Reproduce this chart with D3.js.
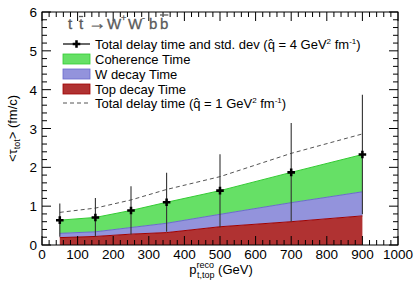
<!DOCTYPE html>
<html lang="en">
<head>
    <meta charset="UTF-8">
    <title>Delay time vs top pT</title>
    <script src="https://d3js.org/d3.v7.min.js"></script>
    <style>
        body { margin: 0; background: #fff; }
        text { font-family: "Liberation Sans", Arial, sans-serif; }
    </style>
</head>
<body>
    <svg id="chart"></svg>
    <script>
        // values
        const ptTop = [50, 150, 250, 350, 500, 700, 900];
        const totalDelay = [0.64, 0.71, 0.89, 1.10, 1.40, 1.87, 2.33];
        const stdDev = [0.43, 0.50, 0.62, 0.76, 0.94, 1.27, 1.54];
        const topDecay = [0.19, 0.22, 0.28, 0.32, 0.47, 0.60, 0.75];
        const wDecay = [0.11, 0.12, 0.17, 0.24, 0.32, 0.49, 0.62];
        const coherence = [0.34, 0.37, 0.44, 0.54, 0.61, 0.78, 0.96];
        const totalDelayQ1 = [0.84, 0.95, 1.16, 1.43, 1.76, 2.36, 2.86];
        const xTicks = [0, 100, 200, 300, 400, 500, 600, 700, 800, 900, 1000];
        const yTicks = [0, 1, 2, 3, 4, 5, 6];

        const width = 415, height = 283;
        const plotL = 42, plotR = 398, plotT = 12, plotB = 245;

        const svg = d3.select("#chart").attr("width", width).attr("height", height);

        const x = d3.scaleLinear().domain([0, 1000]).range([plotL, plotR]);
        const y = d3.scaleLinear().domain([0, 6]).range([plotB, plotT]);

        const rows = ptTop.map((p, i) => ({
            pt: p, top: topDecay[i], w: wDecay[i], coh: coherence[i]
        }));
        const stack = d3.stack().keys(["top", "w", "coh"]);
        const layers = stack(rows);

        const fills = { top: "#b03232", w: "#9393dc", coh: "#66e066" };
        const edges = { top: "#a00000", w: "#6a6acc", coh: "#33cc33" };

        const area = d3.area()
            .x(d => x(d.data.pt))
            .y0(d => y(d[0]))
            .y1(d => y(d[1]));
        const topLine = d3.line()
            .x(d => x(d.data.pt))
            .y(d => y(d[1]));

        svg.append("g").selectAll("path.area")
            .data(layers)
            .enter().append("path")
            .attr("class", "area")
            .attr("fill", d => fills[d.key])
            .attr("d", area);

        svg.append("g").selectAll("path.edge")
            .data(layers)
            .enter().append("path")
            .attr("fill", "none")
            .attr("stroke", d => edges[d.key])
            .attr("stroke-width", 1)
            .attr("d", topLine);

        // dashed q=1 curve
        svg.append("path")
            .datum(ptTop.map((p, i) => [p, totalDelayQ1[i]]))
            .attr("fill", "none")
            .attr("stroke", "#555")
            .attr("stroke-width", 1)
            .attr("stroke-dasharray", "4,3")
            .attr("d", d3.line().x(d => x(d[0])).y(d => y(d[1])));

        // error bars + markers
        const pts = ptTop.map((p, i) => ({ pt: p, v: totalDelay[i], e: stdDev[i] }));
        const eb = svg.append("g");
        eb.selectAll("line")
            .data(pts)
            .enter().append("line")
            .attr("x1", d => x(d.pt)).attr("x2", d => x(d.pt))
            .attr("y1", d => y(d.v - d.e)).attr("y2", d => y(d.v + d.e))
            .attr("stroke", "#333")
            .attr("stroke-width", 1.1);
        eb.selectAll("path")
            .data(pts)
            .enter().append("path")
            .attr("transform", d => `translate(${x(d.pt)},${y(d.v)})`)
            .attr("d", d3.symbol().type(d3.symbolCross).size(32))
            .attr("fill", "#000");

        // frame
        svg.append("rect")
            .attr("x", plotL).attr("y", plotT)
            .attr("width", plotR - plotL).attr("height", plotB - plotT)
            .attr("fill", "none").attr("stroke", "#000").attr("stroke-width", 1);

        // ticks on all four sides, pointing inward
        const tk = svg.append("g").attr("stroke", "#000").attr("stroke-width", 1);
        const xMinor = d3.range(0, 1001, 20);
        xMinor.forEach(v => {
            const len = v % 100 === 0 ? 9 : 5;
            tk.append("line").attr("x1", x(v)).attr("x2", x(v)).attr("y1", plotB).attr("y2", plotB - len);
            tk.append("line").attr("x1", x(v)).attr("x2", x(v)).attr("y1", plotT).attr("y2", plotT + len);
        });
        const yMinor = d3.range(0, 30.5, 1).map(v => v / 5);
        yMinor.forEach((v, i) => {
            const len = i % 5 === 0 ? 9 : 5;
            tk.append("line").attr("y1", y(v)).attr("y2", y(v)).attr("x1", plotL).attr("x2", plotL + len);
            tk.append("line").attr("y1", y(v)).attr("y2", y(v)).attr("x1", plotR).attr("x2", plotR - len);
        });

        // tick labels
        svg.append("g").selectAll("text")
            .data(xTicks)
            .enter().append("text")
            .attr("x", d => x(d)).attr("y", 259)
            .attr("text-anchor", "middle")
            .attr("font-size", 13.5)
            .text(d => d);
        svg.append("g").selectAll("text")
            .data(yTicks)
            .enter().append("text")
            .attr("x", 37).attr("y", d => y(d) + 5)
            .attr("text-anchor", "end")
            .attr("font-size", 13.5)
            .text(d => d);

        // axis titles
        const yt = svg.append("text")
            .attr("transform", `translate(17,${(plotT + plotB) / 2}) rotate(-90)`)
            .attr("text-anchor", "middle")
            .attr("font-size", 13);
        yt.append("tspan").text("<\u03c4");
        yt.append("tspan").attr("font-size", 9).attr("dy", 3).text("tot");
        yt.append("tspan").attr("dy", -3).text("> (fm/c)");

        const xt = svg.append("text")
            .attr("x", 221).attr("y", 274)
            .attr("text-anchor", "middle")
            .attr("font-size", 13);
        xt.append("tspan").text("p");
        xt.append("tspan").attr("font-size", 9).attr("dy", -6).text("reco");
        xt.append("tspan").attr("font-size", 9).attr("dx", -17).attr("dy", 10).text("t,top");
        xt.append("tspan").attr("dy", -4).text(" (GeV)");

        // process label, piece by piece so the anti-quark bars can be drawn
        const grey = "#5a5a5a";
        const pg = svg.append("g").attr("fill", grey);
        const parts = [
            { s: "t", x: 68 }, { s: "t", x: 79, bar: true }, { s: "\u2192", x: 88, arrow: true },
            { s: "W", x: 107 }, { s: "+", x: 121, sup: true },
            { s: "W", x: 128 }, { s: "-", x: 142, sup: true },
            { s: "b", x: 149 }, { s: "b", x: 160, bar: true }
        ];
        parts.forEach(p => {
            const t = pg.append("text")
                .attr("x", p.x).attr("y", p.sup ? 21 : 28.5)
                .attr("font-size", p.sup ? 9 : (p.arrow ? 18 : 15))
                .attr("font-family", p.arrow ? "DejaVu Sans" : null)
                .attr("stroke", grey).attr("stroke-width", 0.3)
                .text(p.s);
            if (p.bar) {
                const w = t.node().getComputedTextLength();
                const by = p.s === "b" ? 15 : 16.5;
                pg.append("line")
                    .attr("x1", p.x).attr("x2", p.x + w)
                    .attr("y1", by).attr("y2", by)
                    .attr("stroke", grey).attr("stroke-width", 1.3);
            }
        });

        // legend
        const legY = [44, 59, 74, 89, 103];
        const lx0 = 63, lx1 = 90, tx = 95;
        const lg = svg.append("g").attr("font-size", 13);

        lg.append("line").attr("x1", lx0).attr("x2", lx1).attr("y1", legY[0]).attr("y2", legY[0])
            .attr("stroke", "#000").attr("stroke-width", 1.2);
        lg.append("path").attr("transform", `translate(${(lx0 + lx1) / 2},${legY[0]})`)
            .attr("d", d3.symbol().type(d3.symbolCross).size(32)).attr("fill", "#000");
        const t0 = lg.append("text").attr("x", tx).attr("y", legY[0] + 4.5);
        t0.append("tspan").text("Total delay time and std. dev (q\u0302 = 4 GeV");
        t0.append("tspan").attr("font-size", 8).attr("dy", -5).text("2");
        t0.append("tspan").attr("dy", 5).text(" fm");
        t0.append("tspan").attr("font-size", 8).attr("dy", -5).text("-1");
        t0.append("tspan").attr("dy", 5).text(")");

        const boxes = [["coh", "Coherence Time"], ["w", "W decay Time"], ["top", "Top decay Time"]];
        boxes.forEach((b, i) => {
            const yy = legY[i + 1];
            lg.append("rect").attr("x", lx0).attr("y", yy - 5).attr("width", lx1 - lx0).attr("height", 10)
                .attr("fill", fills[b[0]]).attr("stroke", edges[b[0]]).attr("stroke-width", 0.8);
            lg.append("text").attr("x", tx).attr("y", yy + 4.5).text(b[1]);
        });

        lg.append("line").attr("x1", lx0).attr("x2", lx1).attr("y1", legY[4]).attr("y2", legY[4])
            .attr("stroke", "#555").attr("stroke-dasharray", "4,3");
        const t4 = lg.append("text").attr("x", tx).attr("y", legY[4] + 4.5);
        t4.append("tspan").text("Total delay time (q\u0302 = 1 GeV");
        t4.append("tspan").attr("font-size", 8).attr("dy", -5).text("2");
        t4.append("tspan").attr("dy", 5).text(" fm");
        t4.append("tspan").attr("font-size", 8).attr("dy", -5).text("-1");
        t4.append("tspan").attr("dy", 5).text(")");
    </script>
</body>
</html>
